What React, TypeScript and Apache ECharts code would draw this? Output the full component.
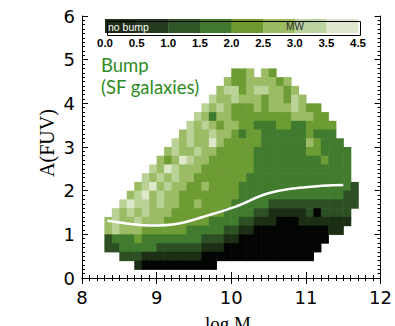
import { useEffect, useRef } from 'react';
import * as echarts from 'echarts';

// ---- data ----
const X_MIN = 8;
const X_MAX = 12;
const Y_MIN = 0;
const Y_MAX = 6;

// plot colours of the contour levels (0 = lowest bump strength)
const LEVEL_COLORS = ['#030503', '#1c2f15', '#2c5024', '#417b2e', '#6e9c34', '#9bbb65', '#bad296', '#dde8cb'];
// colour bar
const CB_COLORS = ['#1e2c18', '#243b1d', '#2e5526', '#3f7a2e', '#6c9a30', '#9aba64', '#bcd39e', '#dfe8ce'];
const CB_LABELS = ['0.0', '0.5', '1.0', '1.5', '2.0', '2.5', '3.0', '3.5', '4.5'];
const CB_BLOCKS = [0, 1, 2, 3, 4, 5, 6, 7];

// contour map: cell width 0.1 in log M (from 8.0), cell height 0.2 in A(FUV)
const CELL_DX = 0.1;
const CELL_DY = 0.2;
const TOP_ROW = 23; // first string = A(FUV) bin 4.6-4.8, last = 0.2-0.4
const ROWS = [
  '....................445.54..............',
  '...................544555545............',
  '..................56645665545...........',
  '.................6556555455465..........',
  '................6565444545556544........',
  '...............653554444444455544.......',
  '..............65654554433344334444......',
  '.............565565543443333334333......',
  '............65655754444433333354333.....',
  '...........5655655444443333333443333....',
  '..........54576554444443333333334333....',
  '.........657655544444443333333333333....',
  '........6565655444444433333333333333....',
  '.......567565544544443333333333333332...',
  '......5675655444444443333333333333322...',
  '.....67665655445444433333222222222222...',
  '....6565655544444443333221111120 2222....'.replace(' ', ''),
  '...56556555444444333322111000111111 1....'.replace(' ', ''),
  '...56555444444333332211000000000011.....',
  '...233343333333322211000000000000.......',
  '...22333332222221110000000000000........',
  '.....22211111111000000000000000.........',
  '.......10000000000......................',
];

// mean A(FUV) curve (white line)
const MEAN_X = [8.34, 8.6, 8.9, 9.3, 9.7, 10.05, 10.5, 11.0, 11.5];
const MEAN_Y = [1.31, 1.25, 1.2, 1.25, 1.44, 1.63, 1.94, 2.08, 2.13];

const LABEL_FONT = 'DejaVu Sans';

function buildCells() {
  const cells: number[][] = [];
  ROWS.forEach((row, i) => {
    const j = TOP_ROW - i;
    for (let k = 0; k < row.length; k++) {
      const ch = row[k];
      if (ch === '.') continue;
      cells.push([X_MIN + CELL_DX * (k + 0.5), CELL_DY * (j + 0.5), Number(ch)]);
    }
  });
  return cells;
}

export default function App() {
  const ref = useRef<HTMLDivElement>(null);
  useEffect(() => {
    if (!ref.current) return;
    const chart = echarts.init(ref.current, null, { renderer: 'svg' });
    const cells = buildCells();
    const axisLine = { show: true, lineStyle: { color: '#000', width: 1 } };
    const tick = { show: true, inside: true, length: 6, lineStyle: { color: '#000', width: 1 } };
    const minor = { show: true, splitNumber: 10, length: 3, lineStyle: { color: '#000', width: 1 } };
    const label = { fontSize: 18, color: '#000', fontFamily: LABEL_FONT };
    chart.setOption({
      animation: false,
      backgroundColor: '#fff',
      grid: [
        { left: 82, right: 11, top: 16, bottom: 48 },
        { left: 105, top: 19, width: 253, height: 14 },
      ],
      xAxis: [
        {
          gridIndex: 0, type: 'value', min: X_MIN, max: X_MAX, interval: 1, position: 'bottom',
          axisLine, axisTick: tick, minorTick: minor, splitLine: { show: false },
          axisLabel: { ...label, margin: 10 },
        },
        {
          gridIndex: 0, type: 'value', min: X_MIN, max: X_MAX, interval: 1, position: 'top',
          axisLine, axisTick: tick, minorTick: minor, splitLine: { show: false },
          axisLabel: { show: false },
        },
        {
          gridIndex: 1, type: 'value', min: 0, max: 8, interval: 1,
          axisLine: { show: false }, axisTick: { show: false }, splitLine: { show: false },
          axisLabel: {
            formatter: (v: number) => CB_LABELS[Math.round(v)] ?? '',
            fontSize: 11.5, fontWeight: 'bold', color: '#000', fontFamily: 'Liberation Sans', margin: 4,
          },
        },
      ],
      yAxis: [
        {
          gridIndex: 0, type: 'value', min: Y_MIN, max: Y_MAX, interval: 1, position: 'left',
          axisLine, axisTick: tick, minorTick: minor, splitLine: { show: false },
          axisLabel: { ...label, margin: 7 },
        },
        {
          gridIndex: 0, type: 'value', min: Y_MIN, max: Y_MAX, interval: 1, position: 'right',
          axisLine, axisTick: tick, minorTick: minor, splitLine: { show: false },
          axisLabel: { show: false },
        },
        { gridIndex: 1, type: 'value', min: 0, max: 1, show: false },
      ],
      series: [
        {
          type: 'custom', xAxisIndex: 0, yAxisIndex: 0, data: cells,
          encode: { x: 0, y: 1 },
          renderItem: (_p: any, api: any) => {
            const x = api.value(0), y = api.value(1), lvl = api.value(2);
            const p0 = api.coord([x - CELL_DX / 2, y + CELL_DY / 2]);
            const p1 = api.coord([x + CELL_DX / 2, y - CELL_DY / 2]);
            return {
              type: 'rect',
              shape: { x: p0[0], y: p0[1], width: p1[0] - p0[0] + 0.6, height: p1[1] - p0[1] + 0.6 },
              style: { fill: LEVEL_COLORS[lvl] },
            };
          },
          z: 2,
        },
        {
          type: 'line', xAxisIndex: 0, yAxisIndex: 0,
          data: MEAN_X.map((x, i) => [x, MEAN_Y[i]]),
          smooth: 0.4, symbol: 'none',
          lineStyle: { color: '#fff', width: 2.5 },
          z: 5,
        },
        {
          type: 'custom', xAxisIndex: 2, yAxisIndex: 2, data: CB_BLOCKS.map((b) => [b, 1]),
          encode: { x: 0, y: 1 },
          renderItem: (_p: any, api: any) => {
            const b = api.value(0);
            const p0 = api.coord([b, 1]);
            const p1 = api.coord([b + 1, 0]);
            return {
              type: 'rect',
              shape: { x: p0[0], y: p0[1], width: p1[0] - p0[0] + 0.4, height: p1[1] - p0[1] },
              style: { fill: CB_COLORS[b] },
            };
          },
          z: 6,
        },
      ],
      graphic: [
        {
          type: 'rect', left: 105, top: 19, z: 100,
          shape: { width: 253, height: 14 },
          style: { fill: 'none', stroke: '#000', lineWidth: 1 },
        },
        {
          type: 'text', x: 108, y: 26.5, z: 101,
          style: { text: 'no bump', fill: '#fff', fontSize: 10.5, fontFamily: 'Liberation Sans', verticalAlign: 'middle', align: 'left' },
        },
        {
          type: 'text', x: 295, y: 26.5, z: 101,
          style: { text: 'MW', fill: '#2a2a2a', fontSize: 10, fontFamily: 'Liberation Sans', verticalAlign: 'middle', align: 'center' },
        },
        {
          type: 'text', x: 101, y: 65, z: 101,
          style: { text: 'Bump', fill: '#2e8b26', fontSize: 18.5, fontFamily: 'Lato', verticalAlign: 'middle', align: 'left' },
        },
        {
          type: 'text', x: 101, y: 87, z: 101,
          style: { text: '(SF galaxies)', fill: '#2e8b26', fontSize: 18.5, fontFamily: 'Lato', verticalAlign: 'middle', align: 'left' },
        },
        {
          type: 'text', x: 47, y: 143, rotation: Math.PI / 2, z: 101,
          style: { text: 'A(FUV)', fill: '#000', fontSize: 20, fontFamily: 'Liberation Serif', verticalAlign: 'middle', align: 'center' },
        },
        {
          type: 'text', x: 228, y: 314, z: 101,
          style: { text: 'log M', fill: '#000', fontSize: 19, fontFamily: 'Liberation Serif', verticalAlign: 'top', align: 'center' },
        },
      ],
    });
    return () => chart.dispose();
  }, []);
  return <div ref={ref} style={{ position: 'fixed', left: 0, top: 0, width: 395, height: 326 }} />;
}
